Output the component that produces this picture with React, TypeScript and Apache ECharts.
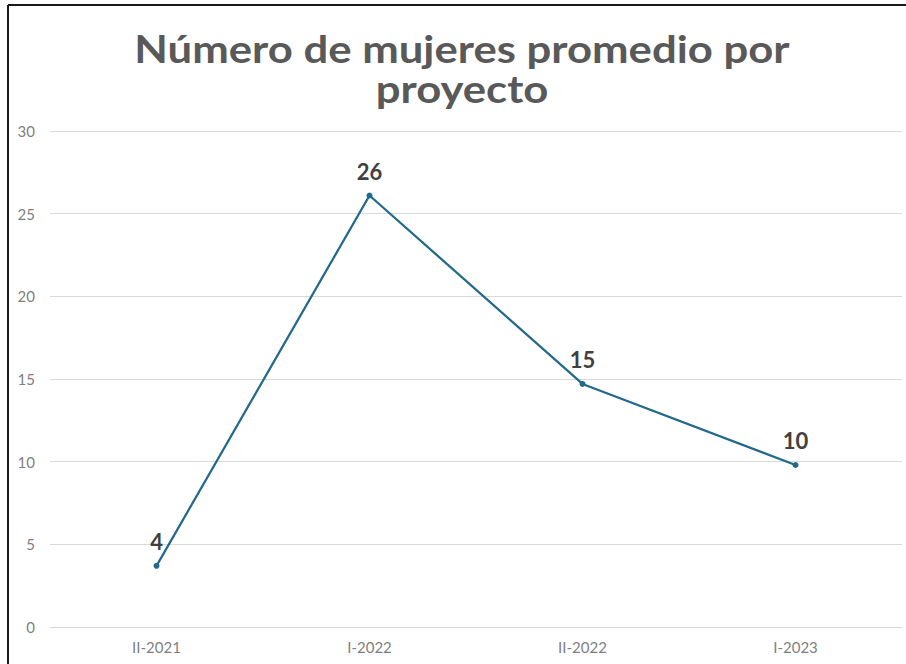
import React, { useEffect, useRef } from "react";
import * as echarts from "echarts";

const categories = ["II-2021", "I-2022", "II-2022", "I-2023"];
const values = [3.7, 26.1, 14.7, 9.8];
const titleLines = ["Número de mujeres promedio por", "proyecto"];

export default function App() {
  const ref = useRef<HTMLDivElement>(null);
  useEffect(() => {
    const chart = echarts.init(ref.current!, null, { renderer: "svg" });
    const titleStyle = {
      fill: "#595959",
      font: "bold 39px Lato",
      textAlign: "center",
      textVerticalAlign: "middle",
    };
    chart.setOption({
      animation: false,
      backgroundColor: "#ffffff",
      grid: { left: 50, right: 4, top: 131, bottom: 37, containLabel: false },
      xAxis: {
        type: "category",
        data: categories,
        boundaryGap: true,
        axisLine: { lineStyle: { color: "#d9d9d9", width: 1 } },
        axisTick: { show: false },
        axisLabel: { color: "#7f7f7f", fontSize: 15, fontFamily: "Lato", margin: 12 },
      },
      yAxis: {
        type: "value",
        min: 0,
        max: 30,
        interval: 5,
        axisLine: { show: false },
        axisTick: { show: false },
        splitLine: { lineStyle: { color: "#d9d9d9", width: 1 } },
        axisLabel: { color: "#7f7f7f", fontSize: 15, fontFamily: "Lato", margin: 15 },
      },
      graphic: [
        {
          type: "text",
          x: 462,
          y: 47.5,
          scaleX: 1.12,
          style: { ...titleStyle, text: titleLines[0] },
        },
        {
          type: "text",
          x: 462,
          y: 87.5,
          scaleX: 1.12,
          style: { ...titleStyle, text: titleLines[1] },
        },
        {
          type: "line",
          shape: { x1: 8, y1: 5, x2: 906, y2: 5 },
          style: { stroke: "#1a1a1a", lineWidth: 2 },
        },
        {
          type: "line",
          shape: { x1: 8, y1: 5, x2: 8, y2: 664 },
          style: { stroke: "#1a1a1a", lineWidth: 2 },
        },
      ],
      series: [
        {
          type: "line",
          data: values,
          symbol: "circle",
          symbolSize: 6,
          itemStyle: { color: "#23698b" },
          lineStyle: { color: "#23698b", width: 2.25 },
          label: {
            show: true,
            position: "top",
            distance: 10,
            color: "#404040",
            fontSize: 22,
            fontWeight: "bold",
            fontFamily: "Lato",
            formatter: (p: any) => String(Math.round(p.value)),
          },
        },
      ],
    });
    return () => chart.dispose();
  }, []);
  return (
    <div
      ref={ref}
      style={{ position: "fixed", left: 0, top: 0, width: 906, height: 664 }}
    />
  );
}
